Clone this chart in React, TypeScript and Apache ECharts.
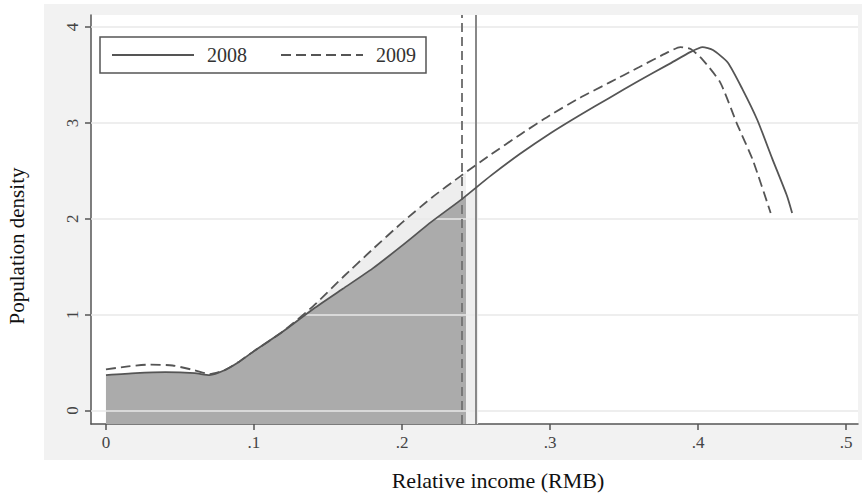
import React, { useEffect, useRef } from "react";
import * as echarts from "echarts";

// ---- data ----
const x2008 = [0, 0.02, 0.04, 0.06, 0.07, 0.08, 0.09, 0.10, 0.12, 0.14, 0.16, 0.18, 0.20, 0.22, 0.24, 0.26, 0.28, 0.30, 0.32, 0.34, 0.36, 0.38, 0.395, 0.403, 0.41, 0.42, 0.43, 0.44, 0.45, 0.46, 0.4635];
const y2008 = [0.37, 0.39, 0.40, 0.39, 0.37, 0.42, 0.51, 0.62, 0.83, 1.06, 1.27, 1.48, 1.72, 1.97, 2.20, 2.45, 2.68, 2.89, 3.08, 3.26, 3.44, 3.61, 3.74, 3.79, 3.76, 3.63, 3.35, 3.03, 2.63, 2.24, 2.06];

const x2009 = [0, 0.015, 0.03, 0.045, 0.06, 0.07, 0.08, 0.09, 0.10, 0.12, 0.14, 0.16, 0.18, 0.20, 0.22, 0.24, 0.26, 0.28, 0.30, 0.32, 0.34, 0.36, 0.38, 0.388, 0.395, 0.403, 0.415, 0.426, 0.437, 0.449];
const y2009 = [0.43, 0.46, 0.48, 0.47, 0.42, 0.38, 0.42, 0.51, 0.62, 0.83, 1.09, 1.39, 1.68, 1.96, 2.22, 2.45, 2.67, 2.88, 3.08, 3.26, 3.42, 3.58, 3.74, 3.79, 3.77, 3.66, 3.42, 3.00, 2.61, 2.06];

// poverty lines (2009 dashed, 2008 solid)
const line2009 = 0.2432;
const line2008 = 0.2514;
// curve heights read at the poverty lines
const y2008AtLine2009 = 2.24;
const y2009AtLine2009 = 2.48;
const y2008AtLine2008 = 2.34;
const mergeX = 0.07;

const xTicks = [0, 0.1, 0.2, 0.3, 0.4, 0.5];
const yTicks = [0, 1, 2, 3, 4];
const annotations = [
  { name: "II", value: [0.2088, 2.0] },
  { name: "I", value: [0.2466, 1.19] },
];

const SERIF = '"Liberation Serif", "DejaVu Serif", serif';

export default function App() {
  const ref = useRef<HTMLDivElement>(null);
  useEffect(() => {
    if (!ref.current) return;
    const chart = echarts.init(ref.current, undefined, { renderer: "svg" });
    const pts2008 = x2008.map((x, i) => [x, y2008[i]]);
    const pts2009 = x2009.map((x, i) => [x, y2009[i]]);
    const grayFill = pts2008.filter((p) => p[0] < line2009).concat([[line2009, y2008AtLine2009]]);
    const lightFill = pts2009
      .filter((p) => p[0] >= mergeX && p[0] < line2009)
      .concat([
        [line2009, y2009AtLine2009],
        [line2009, y2008AtLine2009],
        [line2008, y2008AtLine2008],
      ]);
    const curveColor = "#555";
    const SM = 0.2;
    const option: any = {
      animation: false,
      grid: { left: 91, right: 10, top: 15, bottom: 70, show: true, backgroundColor: "#fff", borderWidth: 0 },
      legend: {
        data: ["2008", "2009"],
        left: 100,
        top: 37,
        orient: "horizontal",
        itemWidth: 82,
        itemHeight: 14,
        itemGap: 33,
        padding: [8, 10, 8, 11],
        borderColor: "#555",
        borderWidth: 1.5,
        borderRadius: 0,
        backgroundColor: "#fff",
        itemStyle: { opacity: 0, color: "transparent", borderWidth: 0 },
        textStyle: { fontFamily: SERIF, fontSize: 20, color: "#333", padding: [0, 0, 0, 8] },
      },
      xAxis: {
        type: "value",
        min: -0.0101,
        max: 0.508,
        axisLine: { show: true, onZero: false, lineStyle: { color: "#555", width: 1.5 } },
        axisTick: { show: true, length: 6, customValues: xTicks, lineStyle: { color: "#555", width: 1.5 } },
        axisLabel: {
          customValues: xTicks,
          margin: 10,
          fontFamily: SERIF,
          fontSize: 17,
          color: "#444",
          formatter: (v: number) => (v === 0 ? "0" : "." + Math.round(v * 10)),
        },
        splitLine: { show: false },
      },
      yAxis: {
        type: "value",
        min: -0.14,
        max: 4.125,
        axisLine: { show: true, onZero: false, lineStyle: { color: "#555", width: 1.5 } },
        axisTick: { show: true, length: 6, customValues: yTicks, lineStyle: { color: "#555", width: 1.5 } },
        axisLabel: {
          customValues: yTicks,
          margin: 10,
          rotate: 90,
          fontFamily: SERIF,
          fontSize: 17,
          color: "#444",
        },
        splitLine: { show: false },
      },
      series: [
        {
          name: "lightFill",
          type: "line",
          data: lightFill,
          symbol: "none",
          smooth: SM,
          lineStyle: { width: 0 },
          areaStyle: { color: "#eeeeee", opacity: 1, origin: "start" },
          z: 1,
          silent: true,
        },
        {
          name: "grayFill",
          type: "line",
          data: grayFill,
          symbol: "none",
          smooth: SM,
          lineStyle: { width: 0 },
          areaStyle: { color: "#ababab", opacity: 1, origin: "start" },
          z: 2,
          silent: true,
        },
        {
          name: "gridLines",
          type: "line",
          data: [],
          symbol: "none",
          z: 3,
          silent: true,
          markLine: {
            silent: true,
            symbol: ["none", "none"],
            label: { show: false },
            lineStyle: { color: "#e8e8e8", width: 1.5, type: "solid" },
            data: yTicks.map((v) => ({ yAxis: v })),
          },
        },
        {
          name: "povertyLines",
          type: "line",
          data: [],
          symbol: "none",
          z: 4,
          silent: true,
          markLine: {
            silent: true,
            symbol: ["none", "none"],
            label: { show: false },
            data: [
              { xAxis: line2009, lineStyle: { color: "#777", width: 2, type: [9, 5] } },
              { xAxis: line2008, lineStyle: { color: "#888", width: 2, type: "solid" } },
            ],
          },
        },
        {
          name: "2008",
          type: "line",
          data: pts2008,
          symbol: "none",
          smooth: SM,
          lineStyle: { color: curveColor, width: 1.8, type: "solid" },
          itemStyle: { color: curveColor },
          z: 5,
        },
        {
          name: "2009",
          type: "line",
          data: pts2009,
          symbol: "none",
          smooth: SM,
          lineStyle: { color: curveColor, width: 1.8, type: [10, 5] },
          itemStyle: { color: curveColor },
          z: 5,
        },
        {
          name: "labels",
          type: "scatter",
          data: annotations,
          symbolSize: 1,
          itemStyle: { opacity: 0 },
          z: 6,
          silent: true,
          label: {
            show: true,
            position: "inside",
            formatter: "{b}",
            fontFamily: SERIF,
            fontSize: 17,
            color: "#333",
          },
        },
      ],
      graphic: [
        {
          type: "text",
          x: 498,
          y: 480,
          style: {
            text: "Relative income (RMB)",
            font: `22px ${SERIF}`,
            fill: "#111",
            align: "center",
            verticalAlign: "middle",
            textAlign: "center",
            textVerticalAlign: "middle",
          },
        },
        {
          type: "text",
          x: 17,
          y: 246,
          rotation: Math.PI / 2,
          style: {
            text: "Population density",
            font: `21px ${SERIF}`,
            fill: "#111",
            align: "center",
            verticalAlign: "middle",
            textAlign: "center",
            textVerticalAlign: "middle",
          },
        },
      ],
    };
    chart.setOption(option);
    return () => chart.dispose();
  }, []);

  return (
    <div style={{ position: "fixed", left: 0, top: 0, width: 868, height: 494, background: "#fff" }}>
      <div style={{ position: "absolute", left: 44, top: 4, width: 818, height: 456, background: "#f2f2f2" }} />
      <div ref={ref} style={{ position: "absolute", left: 0, top: 0, width: 868, height: 494 }} />
    </div>
  );
}
